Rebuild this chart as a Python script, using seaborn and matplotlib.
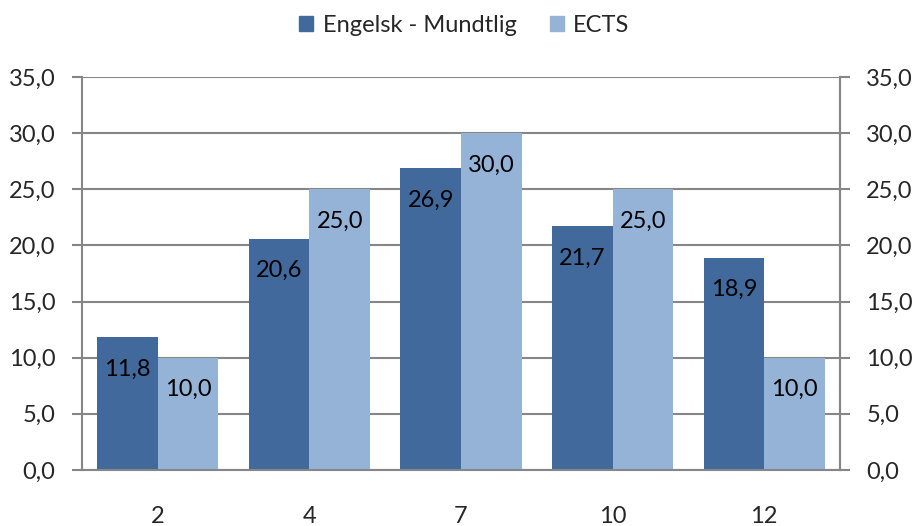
import pandas as pd
import matplotlib
matplotlib.use("Agg")
import matplotlib.pyplot as plt
import seaborn as sns
from matplotlib.patches import Patch

# --- Data ---
grades = ["2", "4", "7", "10", "12"]
engelsk_mundtlig = [11.8, 20.6, 26.9, 21.7, 18.9]
ects = [10.0, 25.0, 30.0, 25.0, 10.0]
series_names = ["Engelsk - Mundtlig", "ECTS"]

DARK = "#41699C"
LIGHT = "#95B3D7"
GRID = "#868686"
FS = 17

df = pd.DataFrame({
    "karakter": grades * 2,
    "procent": engelsk_mundtlig + ects,
    "serie": [series_names[0]] * len(grades) + [series_names[1]] * len(grades),
})

sns.set_style("white")
plt.rcParams["font.family"] = ["Lato", "DejaVu Sans"]


def fmt(v):
    return f"{v:.1f}".replace(".", ",")


fig = plt.figure(figsize=(9.16, 5.26), dpi=100)
ax = fig.add_axes([0.0895, 0.1065, 0.8275, 0.7471])

sns.barplot(data=df, x="karakter", y="procent", hue="serie",
            palette=[DARK, LIGHT], width=0.8, saturation=1, linewidth=0,
            order=grades, ax=ax, legend=False)

ax.set_ylim(0, 35)
ax.set_xlim(-0.5, len(grades) - 0.5)
yticks = [0, 5, 10, 15, 20, 25, 30, 35]
ax.set_yticks(yticks)
ax.set_yticklabels([fmt(t) for t in yticks], fontsize=FS)
ax.yaxis.grid(True, color=GRID, linewidth=1.5)
ax.set_axisbelow(True)
ax.set_xlabel("")
ax.set_ylabel("")

# x ticks at category boundaries, labels centered
ax.set_xticks([i - 0.5 for i in range(len(grades) + 1)], minor=False)
ax.set_xticklabels([])
ax.set_xticks(range(len(grades)), minor=True)
ax.set_xticklabels(grades, minor=True, fontsize=FS)
ax.tick_params(axis="x", which="major", length=7, width=1.5, color=GRID, direction="out")
ax.tick_params(axis="x", which="minor", length=0, pad=26)
ax.tick_params(axis="y", length=7, width=1.5, color=GRID, direction="out", pad=12)

for side in ["left", "right", "bottom"]:
    ax.spines[side].set_visible(True)
    ax.spines[side].set_color(GRID)
    ax.spines[side].set_linewidth(1.5)
ax.spines["top"].set_visible(False)

# right axis
ax2 = ax.twinx()
ax2.set_ylim(0, 35)
ax2.set_yticks(yticks)
ax2.set_yticklabels([fmt(t) for t in yticks], fontsize=FS)
ax2.tick_params(axis="y", length=7, width=1.5, color=GRID, direction="out", pad=12)
for side in ["left", "right", "bottom", "top"]:
    ax2.spines[side].set_visible(False)
ax2.spines["right"].set_visible(True)
ax2.spines["right"].set_color(GRID)
ax2.spines["right"].set_linewidth(1.5)

# value labels inside near bar tops
for container in ax.containers:
    for bar in container:
        h = bar.get_height()
        ax.annotate(fmt(h), (bar.get_x() + bar.get_width() / 2, h),
                    xytext=(0, -23), textcoords="offset points",
                    ha="center", va="center", fontsize=FS, color="black")

# legend
handles = [Patch(color=DARK), Patch(color=LIGHT)]
fig.legend(handles, series_names, loc="center", bbox_to_anchor=(0.507, 0.952),
           ncol=2, frameon=False, fontsize=FS, handlelength=0.6,
           handleheight=0.6, handletextpad=0.4, columnspacing=1.4)

fig.savefig("out.png", dpi=100)
